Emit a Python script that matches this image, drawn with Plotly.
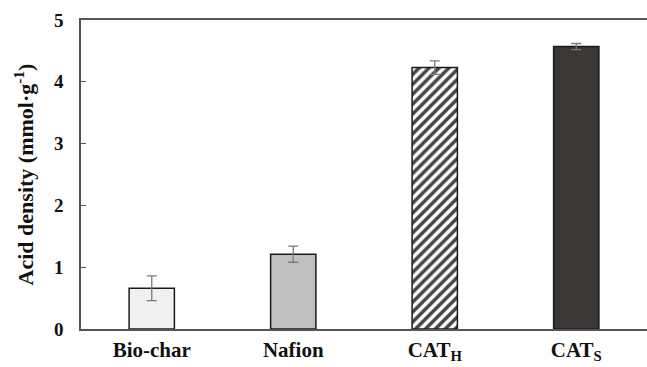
import plotly.graph_objects as go

categories = ["Bio-char", "Nafion", "CAT<sub>H</sub>", "CAT<sub>S</sub>"]
values = [0.66, 1.21, 4.23, 4.57]
errors = [0.20, 0.13, 0.11, 0.05]
colors = ["#f0f0f0", "#bfbfbf", "#ffffff", "#3b3737"]
patterns = ["", "", "/", ""]
y_ticks = [0, 1, 2, 3, 4, 5]

FONT = "Liberation Serif, Times New Roman, serif"

fig = go.Figure()
fig.add_trace(go.Bar(
    x=categories,
    y=values,
    width=0.32,
    marker=dict(
        color=colors,
        line=dict(color="#1a1a1a", width=1.5),
        pattern=dict(shape=patterns, fgcolor="#000000", bgcolor="#ffffff",
                     size=7, solidity=0.5, fgopacity=1, fillmode="overlay"),
    ),
    error_y=dict(type="data", array=errors, visible=True,
                 color="#7a7a7a", thickness=1.3, width=5),
))

fig.update_layout(
    width=647, height=367,
    margin=dict(l=81, r=0, t=20, b=38),
    plot_bgcolor="white", paper_bgcolor="white",
    showlegend=False,
    font=dict(family=FONT, color="#111111"),
)
fig.update_xaxes(
    range=[-0.5, 3.5], automargin=False,
    showline=True, linecolor="#555555", linewidth=1.5, mirror=True,
    ticks="", showgrid=False,
    ticklabelstandoff=1,
    tickfont=dict(family=FONT, size=21, weight="bold", color="#111111"),
)
fig.update_yaxes(
    range=[0, 5], tickvals=y_ticks, automargin=False,
    showline=True, linecolor="#555555", linewidth=1.5,
    ticks="inside", ticklen=5, tickcolor="#555555", tickwidth=1,
    showgrid=False, zeroline=False,
    ticklabelstandoff=12,
    tickfont=dict(family=FONT, size=19, weight="bold", color="#111111"),
    title=dict(text="Acid density (mmol·g<sup>-1</sup>)",
               font=dict(family=FONT, size=22, weight="bold", color="#111111"),
               standoff=14),
)

fig.write_html("out.html")
